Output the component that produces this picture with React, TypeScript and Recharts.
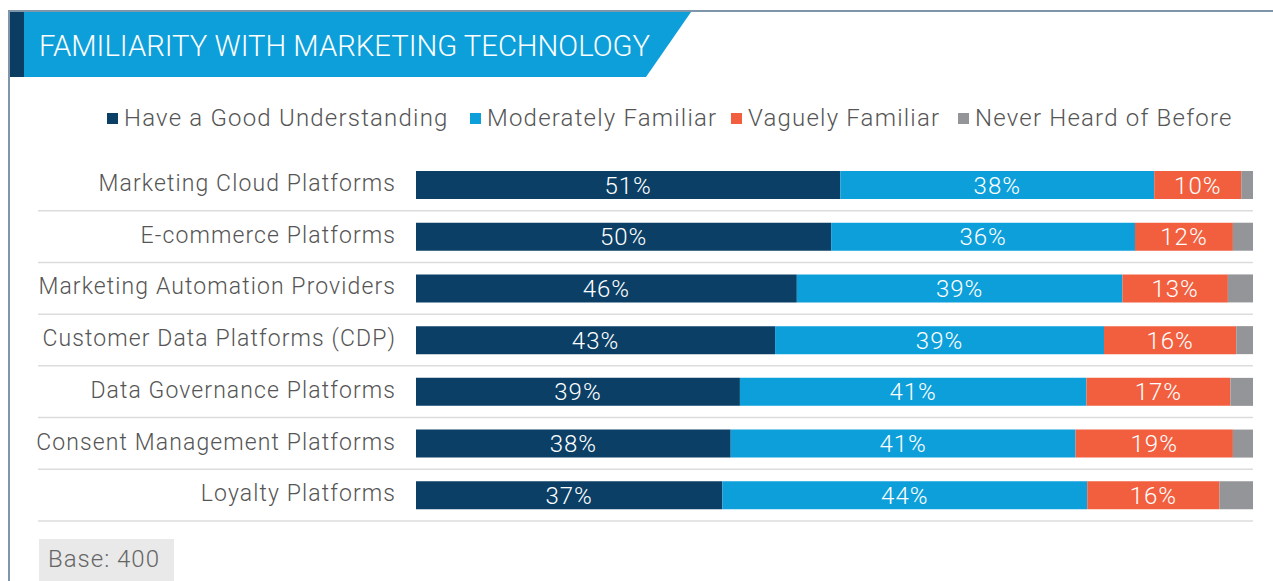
import React from 'react';
import { BarChart, Bar, XAxis, YAxis, LabelList } from 'recharts';

const categories = [
  'Marketing Cloud Platforms',
  'E-commerce Platforms',
  'Marketing Automation Providers',
  'Customer Data Platforms (CDP)',
  'Data Governance Platforms',
  'Consent Management Platforms',
  'Loyalty Platforms',
];
const goodUnderstanding = [50.7, 49.6, 45.5, 42.9, 38.7, 37.6, 36.6];
const moderatelyFamiliar = [37.5, 36.3, 38.9, 39.3, 41.4, 41.2, 43.6];
const vaguelyFamiliar = [10.4, 11.7, 12.6, 15.8, 17.2, 18.8, 15.8];
const neverHeard = [1.4, 2.4, 3.0, 2.0, 2.7, 2.4, 4.0];

const seriesNames = ['Have a Good Understanding', 'Moderately Familiar', 'Vaguely Familiar', 'Never Heard of Before'];
const COLORS = ['#0b3f66', '#0d9fda', '#f15f3f', '#949599'];

const FONT = "Roboto, 'Liberation Sans', Arial, sans-serif";

const data = categories.map((name, i) => ({
  name,
  good: goodUnderstanding[i],
  moderate: moderatelyFamiliar[i],
  vague: vaguelyFamiliar[i],
  never: neverHeard[i],
}));

const CHART_W = 1273;
const CHART_H = 581;
const MARGIN = { top: 159, right: 20, bottom: 60, left: 0 };
const ROW_H = (CHART_H - MARGIN.top - MARGIN.bottom) / categories.length;
const LEGEND_X = [107, 470, 731, 958];

const CategoryTick = (props: any) => {
  const { x, y, payload } = props;
  return (
    <g>
      <text x={x + 2} y={y} dy="0.27em" textAnchor="end" fill="#555" fontFamily={FONT} fontWeight={300} fontSize={23} letterSpacing={1.1}>
        {payload.value}
      </text>
      <line x1={38} x2={CHART_W - MARGIN.right} y1={y + ROW_H / 2} y2={y + ROW_H / 2} stroke="#dcdcdc" strokeWidth={1.5} />
    </g>
  );
};

const pctLabel = (v: any) => `${Math.round(Number(v))}%`;

export default function App() {
  const labelStyle = { fill: '#fff', fontSize: 24, fontFamily: FONT, fontWeight: 300, letterSpacing: 1 };
  return (
    <div style={{ position: 'absolute', left: 0, top: 0, width: CHART_W, height: CHART_H, background: '#fff', overflow: 'hidden' }}>
      {/* frame lines */}
      <div style={{ position: 'absolute', left: 8, top: 10, width: 2, height: CHART_H, background: '#7f96aa' }} />
      <div style={{ position: 'absolute', left: 8, top: 10, width: CHART_W, height: 2, background: '#7f96aa' }} />
      {/* title banner */}
      <svg style={{ position: 'absolute', left: 0, top: 0 }} width={720} height={90}>
        <polygon points="10,12 691,12 646,77 10,77" fill="#0d9fda" />
        <rect x={10} y={12} width={14} height={65} fill="#0b3c61" />
        <text x={39} y={56} fill="#fff" fontFamily={FONT} fontWeight={300} fontSize={29} textLength={611} lengthAdjust="spacingAndGlyphs">
          FAMILIARITY WITH MARKETING TECHNOLOGY
        </text>
      </svg>
      {/* legend */}
      {seriesNames.map((n, i) => (
        <div key={n} style={{ position: 'absolute', left: LEGEND_X[i], top: 103, height: 30, display: 'flex', alignItems: 'center', fontFamily: FONT, fontWeight: 300, fontSize: 24, letterSpacing: 1.2, color: '#555', whiteSpace: 'nowrap' }}>
          <span style={{ display: 'inline-block', width: 11, height: 11, background: COLORS[i], marginRight: 6 }} />
          <span>{n}</span>
        </div>
      ))}
      <div style={{ position: 'absolute', left: 0, top: 0 }}>
        <BarChart width={CHART_W} height={CHART_H} data={data} layout="vertical" margin={MARGIN} barSize={28}>
          <XAxis type="number" domain={[0, 100]} hide />
          <YAxis type="category" dataKey="name" width={416} axisLine={false} tickLine={false} tickSize={0} tickMargin={22} tick={<CategoryTick />} interval={0} />
          <Bar dataKey="good" name={seriesNames[0]} stackId="a" fill={COLORS[0]} isAnimationActive={false}>
            <LabelList dataKey="good" position="center" formatter={pctLabel} style={labelStyle} />
          </Bar>
          <Bar dataKey="moderate" name={seriesNames[1]} stackId="a" fill={COLORS[1]} isAnimationActive={false}>
            <LabelList dataKey="moderate" position="center" formatter={pctLabel} style={labelStyle} />
          </Bar>
          <Bar dataKey="vague" name={seriesNames[2]} stackId="a" fill={COLORS[2]} isAnimationActive={false}>
            <LabelList dataKey="vague" position="center" formatter={pctLabel} style={labelStyle} />
          </Bar>
          <Bar dataKey="never" name={seriesNames[3]} stackId="a" fill={COLORS[3]} isAnimationActive={false} />
        </BarChart>
      </div>
      {/* base note */}
      <div style={{ position: 'absolute', left: 39, top: 539, width: 135, height: 50, background: '#e9e9e9', fontFamily: FONT, fontWeight: 300, fontSize: 24, letterSpacing: 1, color: '#666', paddingLeft: 9, paddingTop: 6, boxSizing: 'border-box' }}>
        Base: 400
      </div>
    </div>
  );
}
